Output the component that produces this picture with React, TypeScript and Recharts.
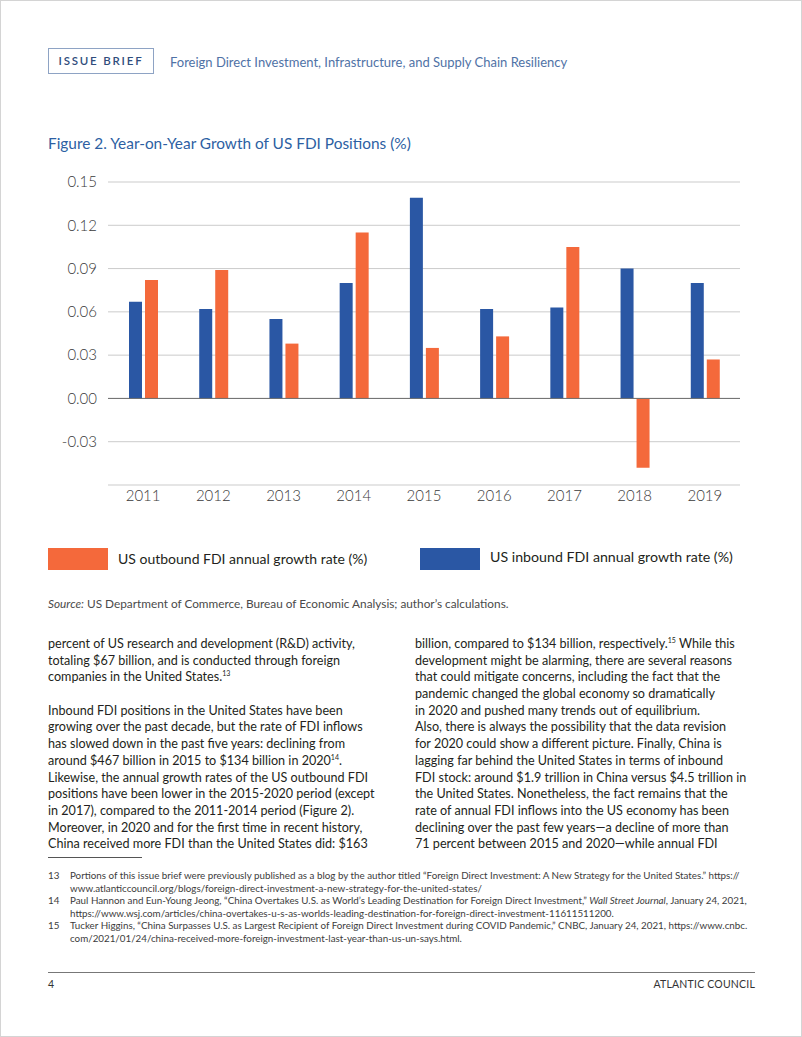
import { BarChart, Bar, XAxis, YAxis, CartesianGrid, ReferenceLine } from "recharts";

// data
const years = ["2011", "2012", "2013", "2014", "2015", "2016", "2017", "2018", "2019"];
const inboundGrowth = [0.067, 0.062, 0.055, 0.08, 0.139, 0.062, 0.063, 0.09, 0.08];
const outboundGrowth = [0.082, 0.089, 0.038, 0.115, 0.035, 0.043, 0.105, -0.048, 0.027];
const yTicks = [-0.03, 0, 0.03, 0.06, 0.09, 0.12, 0.15];

const outboundLabel = "US outbound FDI annual growth rate (%)";
const inboundLabel = "US inbound FDI annual growth rate (%)";

const INBOUND_COLOR = "#2a57a4";
const OUTBOUND_COLOR = "#f4693b";
const FONT = "Lato, 'Open Sans', sans-serif";

const chartData = years.map((year, i) => ({
  year,
  inbound: inboundGrowth[i],
  outbound: outboundGrowth[i],
}));

const Sup = ({ n }: { n: string }) => (
  <span style={{ fontSize: 7, position: "relative", top: -5 }}>{n}</span>
);

const leftLines: React.ReactNode[] = [
  "percent of US research and development (R&D) activity,",
  "totaling $67 billion, and is conducted through foreign",
  <>companies in the United States.<Sup n="13" /></>,
  "",
  "Inbound FDI positions in the United States have been",
  "growing over the past decade, but the rate of FDI inflows",
  "has slowed down in the past five years: declining from",
  <>around $467 billion in 2015 to $134 billion in 2020<Sup n="14" />.</>,
  "Likewise, the annual growth rates of the US outbound FDI",
  "positions have been lower in the 2015-2020 period (except",
  "in 2017), compared to the 2011-2014 period (Figure 2).",
  "Moreover, in 2020 and for the first time in recent history,",
  "China received more FDI than the United States did:  $163",
];

const rightLines: React.ReactNode[] = [
  <>billion, compared to $134 billion, respectively.<Sup n="15" /> While this</>,
  "development might be alarming, there are several reasons",
  "that could mitigate concerns, including the fact that the",
  "pandemic changed the global economy so dramatically",
  "in 2020 and pushed many trends out of equilibrium.",
  "Also, there is always the possibility that the data revision",
  "for 2020 could show a different picture. Finally, China is",
  "lagging far behind the United States in terms of inbound",
  "FDI stock: around $1.9 trillion in China versus $4.5 trillion in",
  "the United States. Nonetheless, the fact remains that the",
  "rate of annual FDI inflows into the US economy has been",
  "declining over the past few years—a decline of more than",
  "71 percent between 2015 and 2020—while annual FDI",
];

const footnotes: { num: string; lines: React.ReactNode[] }[] = [
  {
    num: "13",
    lines: [
      "Portions of this issue brief were previously published as a blog by the author titled “Foreign Direct Investment: A New Strategy for the United States.” https://",
      "www.atlanticcouncil.org/blogs/foreign-direct-investment-a-new-strategy-for-the-united-states/",
    ],
  },
  {
    num: "14",
    lines: [
      <>Paul Hannon and Eun-Young Jeong, “China Overtakes U.S. as World’s Leading Destination for Foreign Direct Investment,” <i>Wall Street Journal</i>, January 24, 2021,</>,
      "https://www.wsj.com/articles/china-overtakes-u-s-as-worlds-leading-destination-for-foreign-direct-investment-11611511200.",
    ],
  },
  {
    num: "15",
    lines: [
      "Tucker Higgins, “China Surpasses U.S. as Largest Recipient of Foreign Direct Investment during COVID Pandemic,” CNBC, January 24, 2021, https://www.cnbc.",
      "com/2021/01/24/china-received-more-foreign-investment-last-year-than-us-un-says.html.",
    ],
  },
];

const BODY_TOP = 636;
const LINE_H = 16.7;

const Column = ({ lines, left }: { lines: React.ReactNode[]; left: number }) => (
  <div style={{ position: "absolute", left, top: BODY_TOP }}>
    {lines.map((l, i) => (
      <div
        key={i}
        style={{
          height: LINE_H,
          lineHeight: `${LINE_H}px`,
          fontSize: 12.6,
          color: "#231f20",
          whiteSpace: "nowrap",
        }}
      >
        {l}
      </div>
    ))}
  </div>
);

const App = () => {
  return (
    <div
      style={{
        position: "absolute",
        left: 0,
        top: 0,
        width: 802,
        height: 1037,
        background: "#fff",
        fontFamily: FONT,
        boxShadow: "inset 0 0 0 1px #d4d4d4",
        overflow: "hidden",
      }}
    >
      {/* header */}
      <div
        style={{
          position: "absolute",
          left: 48,
          top: 48,
          width: 104,
          height: 24,
          border: "1px solid #8ea3c4",
          color: "#2f4d7c",
          fontSize: 11.5,
          fontWeight: 600,
          letterSpacing: 1.8,
          lineHeight: "24px",
          textAlign: "center",
        }}
      >
        ISSUE BRIEF
      </div>
      <div
        style={{
          position: "absolute",
          left: 170,
          top: 53,
          fontSize: 13,
          color: "#4f72a6",
          lineHeight: "18px",
          whiteSpace: "nowrap",
        }}
      >
        Foreign Direct Investment, Infrastructure, and Supply Chain Resiliency
      </div>

      <div
        style={{
          position: "absolute",
          left: 48,
          top: 132,
          fontSize: 15.4,
          color: "#2d5fa3",
          lineHeight: "22px",
          whiteSpace: "nowrap",
        }}
      >
        Figure 2. Year-on-Year Growth of US FDI Positions (%)
      </div>

      {/* chart */}
      <div style={{ position: "absolute", left: 0, top: 170 }}>
        <BarChart
          width={802}
          height={350}
          data={chartData}
          margin={{ top: 12, right: 62, bottom: 5, left: 0 }}
          barSize={13}
          barGap={3}
        >
          <CartesianGrid vertical={false} stroke="#cbcbcb" strokeWidth={1} />
          <XAxis
            dataKey="year"
            axisLine={false}
            tickLine={false}
            tickSize={0}
            tickMargin={5}
            height={30}
            interval={0}
            tick={{ fill: "#3a3a3a", fontSize: 15, fontFamily: FONT, fontWeight: 300 }}
          />
          <YAxis
            width={108}
            domain={[-0.06, 0.15]}
            ticks={yTicks}
            allowDataOverflow
            axisLine={false}
            tickLine={false}
            tickSize={0}
            tickMargin={11}
            tickFormatter={(v: number) => v.toFixed(2)}
            tick={{ fill: "#3a3a3a", fontSize: 15, fontFamily: FONT, fontWeight: 300 }}
          />
          <ReferenceLine y={0} stroke="#6e6e6e" strokeWidth={1} />
          <Bar dataKey="inbound" name={inboundLabel} fill={INBOUND_COLOR} isAnimationActive={false} />
          <Bar dataKey="outbound" name={outboundLabel} fill={OUTBOUND_COLOR} isAnimationActive={false} />
        </BarChart>
      </div>

      {/* legend */}
      <div style={{ position: "absolute", left: 48, top: 548, width: 60, height: 22, background: OUTBOUND_COLOR }} />
      <div
        style={{
          position: "absolute",
          left: 118,
          top: 550,
          fontSize: 14,
          color: "#231f20",
          lineHeight: "18px",
          whiteSpace: "nowrap",
        }}
      >
        {outboundLabel}
      </div>
      <div style={{ position: "absolute", left: 420, top: 548, width: 60, height: 22, background: INBOUND_COLOR }} />
      <div
        style={{
          position: "absolute",
          left: 490,
          top: 548,
          fontSize: 14.2,
          color: "#231f20",
          lineHeight: "18px",
          whiteSpace: "nowrap",
        }}
      >
        {inboundLabel}
      </div>

      <div
        style={{
          position: "absolute",
          left: 48,
          top: 596,
          fontSize: 11.8,
          color: "#4a4a4a",
          lineHeight: "15px",
          whiteSpace: "nowrap",
        }}
      >
        <i>Source:</i> US Department of Commerce, Bureau of Economic Analysis; author’s calculations.
      </div>

      {/* body text */}
      <Column lines={leftLines} left={48} />
      <Column lines={rightLines} left={415} />

      {/* footnotes */}
      <div style={{ position: "absolute", left: 48, top: 857, width: 94, height: 1, background: "#555" }} />
      {footnotes.map((f, i) => (
        <div
          key={f.num}
          style={{
            position: "absolute",
            left: 48,
            top: 869 + i * 25,
            fontSize: 9.8,
            color: "#3c3c3c",
            lineHeight: "12.8px",
            whiteSpace: "nowrap",
          }}
        >
          <span style={{ position: "absolute", left: 0, top: 0 }}>{f.num}</span>
          <div style={{ marginLeft: 22 }}>
            {f.lines.map((l, j) => (
              <div key={j}>{l}</div>
            ))}
          </div>
        </div>
      ))}

      {/* page footer */}
      <div style={{ position: "absolute", left: 48, top: 972, width: 707, height: 1, background: "#777" }} />
      <div style={{ position: "absolute", left: 48, top: 977, fontSize: 10.5, color: "#333", lineHeight: "14px" }}>4</div>
      <div
        style={{
          position: "absolute",
          right: 47,
          top: 977,
          fontSize: 10.5,
          color: "#333",
          lineHeight: "14px",
          letterSpacing: 0.2,
        }}
      >
        ATLANTIC COUNCIL
      </div>
    </div>
  );
};

export default App;
